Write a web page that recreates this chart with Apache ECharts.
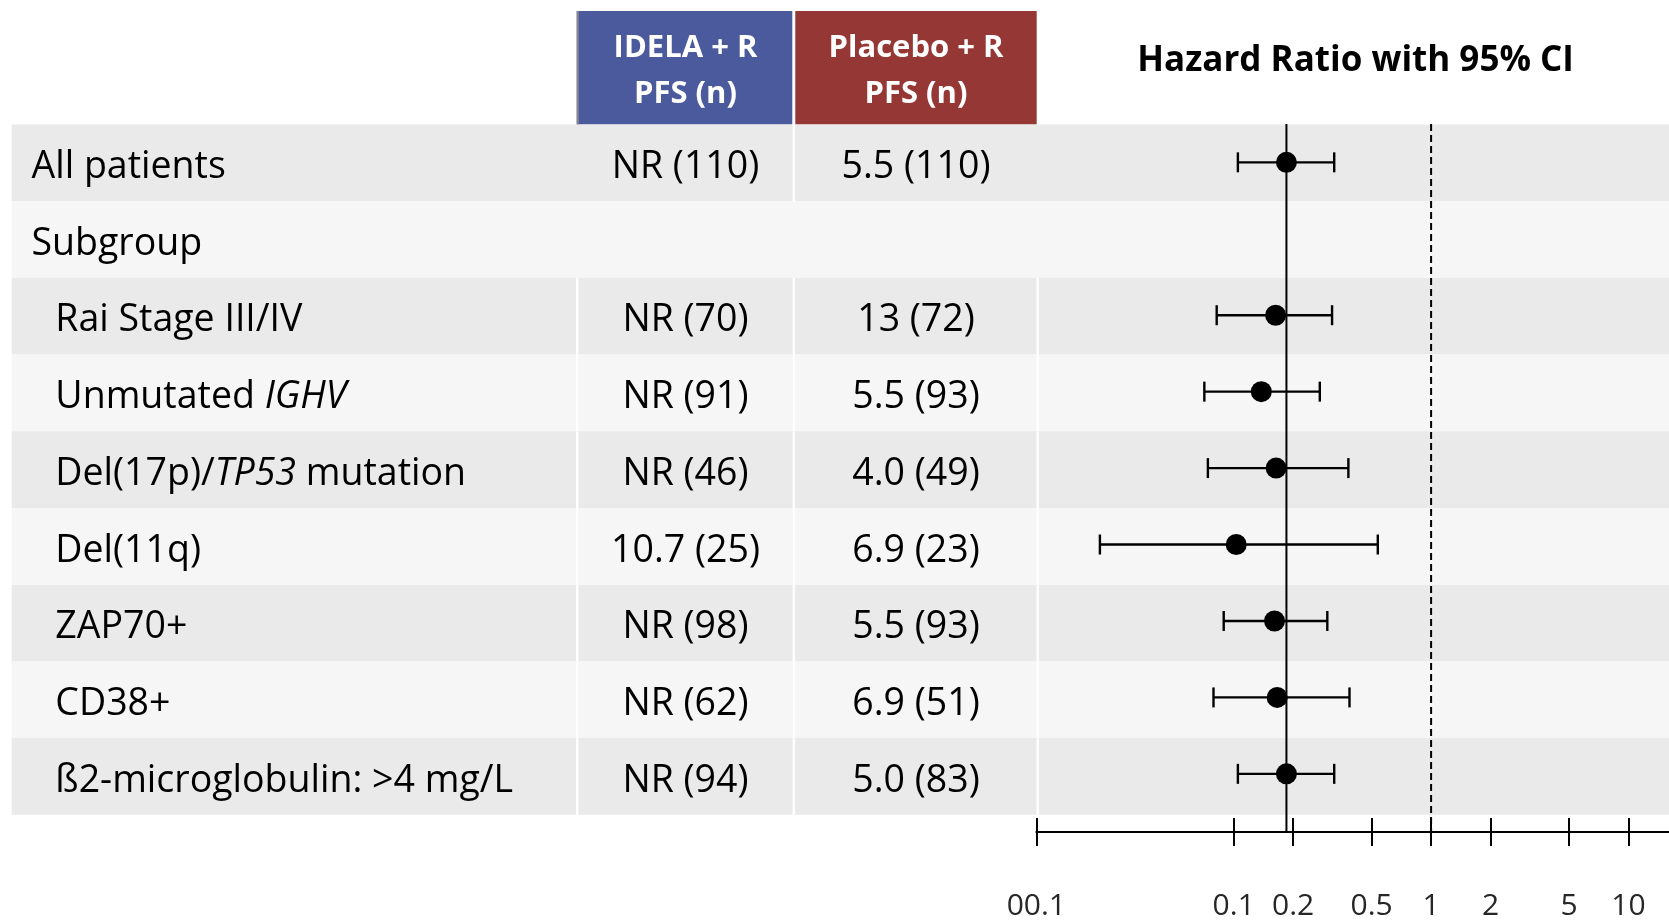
<!DOCTYPE html>
<html><head><meta charset="utf-8">
<script src="https://cdn.jsdelivr.net/npm/echarts@6/dist/echarts.min.js"></script>
<style>html,body{margin:0;padding:0;background:#fff}#c{width:1669px;height:921px}</style>
</head><body><div id="c"></div>
<script>
// ---------------- data ----------------
const rowLabels = ['All patients', 'Subgroup', 'Rai Stage III/IV', 'Unmutated {i|IGHV}',
  'Del(17p)/{i|TP53} mutation', 'Del(11q)', 'ZAP70+', 'CD38+', 'ß2-microglobulin: >4 mg/L'];
const rowLevel = [0, 0, 1, 1, 1, 1, 1, 1, 1];
const idelaPFS = ['NR (110)', '', 'NR (70)', 'NR (91)', 'NR (46)', '10.7 (25)', 'NR (98)', 'NR (62)', 'NR (94)'];
const placeboPFS = ['5.5 (110)', '', '13 (72)', '5.5 (93)', '4.0 (49)', '6.9 (23)', '5.5 (93)', '6.9 (51)', '5.0 (83)'];
const hazardRatio = [0.185, null, 0.163, 0.138, 0.164, 0.103, 0.161, 0.166, 0.185];
const ciLower = [0.105, null, 0.082, 0.071, 0.074, 0.021, 0.089, 0.079, 0.105];
const ciUpper = [0.323, null, 0.315, 0.273, 0.381, 0.537, 0.298, 0.386, 0.323];
const overallHR = 0.185;
const noEffectHR = 1;
const tickValues = [0.01, 0.1, 0.2, 0.5, 1, 2, 5, 10];
const tickLabels = ['00.1', '0.1', '0.2', '0.5', '1', '2', '5', '10'];
const headerIdela = ['IDELA + R', 'PFS (n)'];
const headerPlacebo = ['Placebo + R', 'PFS (n)'];
const chartTitle = 'Hazard Ratio with 95% CI';

// ---------------- layout ----------------
const W = 1669;
const TOP = 11, AXIS_Y = 834.8, ROW_TOP = 124.5, ROW_H = 76.7;
const Y_MIN = -(ROW_TOP - TOP) / ROW_H;
const Y_MAX = (AXIS_Y - ROW_TOP) / ROW_H;
const FOREST_L = 1036.3, DECADE = 197.4;
const X_MIN = -2, X_MAX = X_MIN + (W - FOREST_L) / DECADE;
const COL = { left: 11.7, sep1: 577.2, sep2: 793.8, sep3: 1037.7, c1: 685.5, c2: 916 };
const HDR = { b0: 576.7, b1: 792.3, r0: 795.3, r1: 1036.7 };
const FONT = "'Open Sans', sans-serif";
const TXT = 37.5;

const log10 = Math.log10;

const tableData = rowLabels.map((_, i) => [i]);
const barData = [];
const pointData = [];
hazardRatio.forEach((h, i) => {
  if (h == null) return;
  barData.push([log10(ciLower[i]), log10(ciUpper[i]), i + 0.5]);
  pointData.push([log10(h), i + 0.5]);
});

function nearestLabel(v) {
  let best = 0;
  tickValues.forEach((t, k) => {
    if (Math.abs(log10(t) - v) < Math.abs(log10(tickValues[best]) - v)) best = k;
  });
  return tickLabels[best];
}

const chart = echarts.init(document.getElementById('c'), null, { renderer: 'canvas' });
const tickLog = tickValues.map(log10);

const option = {
  animation: false,
  backgroundColor: '#ffffff',
  grid: [
    { left: 0, right: 0, top: TOP, bottom: 921 - AXIS_Y },
    { left: FOREST_L, right: 0, top: TOP, bottom: 921 - AXIS_Y }
  ],
  xAxis: [
    { gridIndex: 0, type: 'value', min: 0, max: W, show: false },
    { gridIndex: 1, type: 'value', min: X_MIN, max: X_MAX, position: 'bottom',
      axisLine: { show: true, onZero: false, lineStyle: { color: '#000', width: 2 } },
      axisTick: { show: true, customValues: tickLog, length: 14, lineStyle: { color: '#000', width: 2 } },
      axisLabel: { show: true, customValues: tickLog, formatter: nearestLabel, margin: 74,
        verticalAlign: 'middle', fontSize: 30, fontFamily: FONT, color: '#262626' },
      splitLine: { show: false } },
    { gridIndex: 1, type: 'value', min: X_MIN, max: X_MAX, position: 'bottom',
      axisLine: { show: false, onZero: false },
      axisTick: { show: true, inside: true, customValues: tickLog, length: 14, lineStyle: { color: '#000', width: 2 } },
      axisLabel: { show: false }, splitLine: { show: false } }
  ],
  yAxis: [
    { gridIndex: 0, type: 'value', inverse: true, min: Y_MIN, max: Y_MAX, show: false },
    { gridIndex: 1, type: 'value', inverse: true, min: Y_MIN, max: Y_MAX, show: false,
      axisLine: { onZero: false } }
  ],
  series: [
    { // table rows
      type: 'custom', xAxisIndex: 0, yAxisIndex: 0, z: 1, silent: true,
      data: tableData,
      renderItem(params, api) {
        const i = api.value(0);
        const top = api.coord([0, i])[1];
        const bot = api.coord([0, i + 1])[1];
        const mid = (top + bot) / 2 + 4.5;
        const xL = api.coord([COL.left, 0])[0];
        const xR = api.coord([W, 0])[0];
        const ch = [{ type: 'rect', shape: { x: xL, y: top, width: xR - xL, height: bot - top },
          style: { fill: i % 2 ? '#f6f6f6' : '#eaeaea' } }];
        const seps = [];
        if (rowLevel[i] === 1) seps.push(COL.sep1, COL.sep2, COL.sep3);
        else if (idelaPFS[i]) seps.push(COL.sep2);
        seps.forEach(s => {
          const x = api.coord([s, 0])[0];
          ch.push({ type: 'rect', shape: { x: x - 1.2, y: top, width: 2.4, height: bot - top }, style: { fill: '#ffffff' } });
        });
        const base = { fontSize: TXT, fontFamily: FONT, fill: '#000' };
        ch.push({ type: 'text', x: api.coord([rowLevel[i] ? 55.3 : 31.5, 0])[0], y: mid,
          style: Object.assign({ text: rowLabels[i], align: 'left', verticalAlign: 'middle',
            rich: { i: { fontStyle: 'italic', fontSize: TXT, fontFamily: FONT, fill: '#000' } } }, base) });
        if (idelaPFS[i]) ch.push({ type: 'text', x: api.coord([COL.c1, 0])[0], y: mid,
          style: Object.assign({ text: idelaPFS[i], align: 'center', verticalAlign: 'middle' }, base) });
        if (placeboPFS[i]) ch.push({ type: 'text', x: api.coord([COL.c2, 0])[0], y: mid,
          style: Object.assign({ text: placeboPFS[i], align: 'center', verticalAlign: 'middle' }, base) });
        return { type: 'group', children: ch };
      }
    },
    { // header cells + title
      type: 'custom', xAxisIndex: 0, yAxisIndex: 0, z: 1, silent: true,
      data: [[0]],
      renderItem(params, api) {
        const top = api.coord([0, Y_MIN])[1];
        const bot = api.coord([0, 0])[1] - 0.2;
        const cx = v => api.coord([v, 0])[0];
        const hfont = { fontSize: 31, fontFamily: FONT, fontWeight: 'bold', fill: '#ffffff', align: 'center', verticalAlign: 'middle' };
        const ch = [
          { type: 'rect', shape: { x: cx(HDR.b0), y: top, width: cx(HDR.b1) - cx(HDR.b0), height: bot - top }, style: { fill: '#4a5a9c' } },
          { type: 'rect', shape: { x: cx(HDR.b0), y: top, width: 2, height: bot - top }, style: { fill: '#8a8a8a' } },
          { type: 'rect', shape: { x: cx(HDR.r0), y: top, width: cx(HDR.r1) - cx(HDR.r0), height: bot - top }, style: { fill: '#953735' } }
        ];
        const lineY = [top + 37, top + 83];
        headerIdela.forEach((t, k) => ch.push({ type: 'text', x: cx(COL.c1), y: lineY[k], style: Object.assign({ text: t }, hfont) }));
        headerPlacebo.forEach((t, k) => ch.push({ type: 'text', x: cx(COL.c2), y: lineY[k], style: Object.assign({ text: t }, hfont) }));
        ch.push({ type: 'text', x: cx(1355.6), y: top + 50,
          style: { text: chartTitle, fontSize: 35, fontWeight: 'bold', fontFamily: FONT, fill: '#000', align: 'center', verticalAlign: 'middle' } });
        return { type: 'group', children: ch };
      }
    },
    { // reference line at overall HR
      type: 'line', xAxisIndex: 1, yAxisIndex: 1, z: 3, silent: true, showSymbol: false,
      data: [[log10(overallHR), 0], [log10(overallHR), Y_MAX]],
      lineStyle: { color: '#000', width: 2 }
    },
    { // line of no effect
      type: 'line', xAxisIndex: 1, yAxisIndex: 1, z: 3, silent: true, showSymbol: false,
      data: [[log10(noEffectHR), 0], [log10(noEffectHR), Y_MAX]],
      lineStyle: { color: '#000', width: 2, type: [7, 4] }
    },
    { // CI whiskers
      type: 'custom', xAxisIndex: 1, yAxisIndex: 1, z: 4, silent: true,
      data: barData,
      renderItem(params, api) {
        const lo = api.coord([api.value(0), api.value(2)]);
        const hi = api.coord([api.value(1), api.value(2)]);
        const c = 10;
        const st = { stroke: '#000', lineWidth: 2.4 };
        return { type: 'group', children: [
          { type: 'line', shape: { x1: lo[0], y1: lo[1], x2: hi[0], y2: hi[1] }, style: st },
          { type: 'line', shape: { x1: lo[0], y1: lo[1] - c, x2: lo[0], y2: lo[1] + c }, style: st },
          { type: 'line', shape: { x1: hi[0], y1: hi[1] - c, x2: hi[0], y2: hi[1] + c }, style: st }
        ] };
      }
    },
    { // point estimates
      type: 'scatter', xAxisIndex: 1, yAxisIndex: 1, z: 5, silent: true,
      data: pointData, symbol: 'circle', symbolSize: 21,
      itemStyle: { color: '#000', opacity: 1 }
    }
  ]
};
chart.setOption(option);
</script>
</body></html>
